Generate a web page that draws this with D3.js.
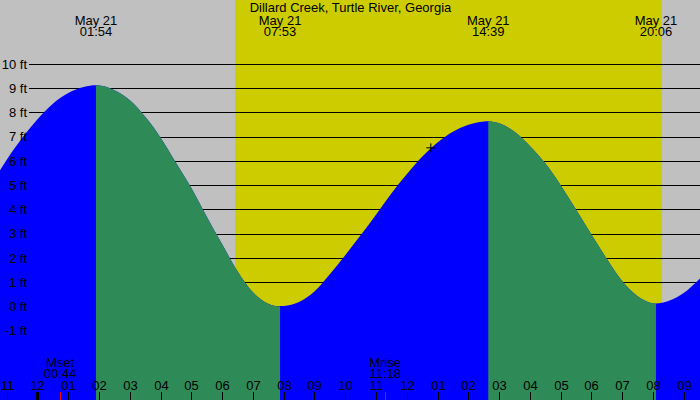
<!DOCTYPE html>
<html>
<head>
<meta charset="utf-8">
<script src="https://cdn.jsdelivr.net/npm/d3@7"></script>
<style>
  html, body { margin: 0; padding: 0; background: #c0c0c0; }
  svg { display: block; }
  text { font-family: "Liberation Sans", Arial, sans-serif; font-size: 13px; fill: #000; }
</style>
</head>
<body>
<svg id="chart" width="700" height="400"></svg>
<script>
// Chart text
const title = 'Dillard Creek, Turtle River, Georgia';
const dateLabel = 'May 21';

// High / low tide events (May 21)
const eventTimes = ['01:54', '07:53', '14:39', '20:06'];
const eventKinds = ['H', 'L', 'H', 'L'];

// Daylight (sunrise, sunset)
const sunTimes = ['06:26', '20:17'];

// Moon events
const moonNames = ['Mset', 'Mrise'];
const moonTimes = ['00:44', '11:18'];

// Tide height readings (hours after midnight, feet)
const tideHours = [-1.2187, -1.0, -0.5, 0.0, 0.5, 1.0, 1.5, 1.9,
  2.0, 2.5, 3.0, 3.5, 4.0, 4.5, 5.0, 5.5, 6.0, 6.5, 7.0, 7.5, 7.883,
  8.0, 8.5, 9.0, 9.5, 10.0, 10.5, 11.0, 11.5, 12.0, 12.5, 13.0, 13.5, 14.0, 14.5, 14.65,
  15.0, 15.5, 16.0, 16.5, 17.0, 17.5, 18.0, 18.5, 19.0, 19.5, 20.0, 20.1,
  20.5, 21.0, 21.531];
const tideFeet = [5.62, 6.05, 6.95, 7.72, 8.36, 8.80, 9.05, 9.12,
  9.11, 8.92, 8.50, 7.82, 6.96, 5.92, 4.88, 3.70, 2.56, 1.45, 0.58, 0.11, 0.0,
  0.01, 0.18, 0.61, 1.32, 2.11, 2.93, 3.78, 4.66, 5.45, 6.17, 6.76, 7.20, 7.49, 7.63, 7.64,
  7.55, 7.20, 6.62, 5.90, 5.00, 4.00, 2.96, 1.96, 1.04, 0.42, 0.13, 0.12,
  0.22, 0.55, 1.15];

// Small "+" marker on the curve
const markerTime = '12:47';
const markerFeet = 6.54;

// Axis ticks
const feetTicks = [-1, 0, 1, 2, 3, 4, 5, 6, 7, 8, 9, 10];
const hourTicks = d3.range(-1, 22);
const hourLabels = ['11', '12', '01', '02', '03', '04', '05', '06', '07', '08', '09', '10', '11',
  '12', '01', '02', '03', '04', '05', '06', '07', '08', '09'];

const toHours = s => { const [h, m] = s.split(':').map(Number); return h + m / 60; };

const svg = d3.select('#chart');
const width = 700, height = 400;

// midnight sits at x=37.5, one hour is ~30.77px
const x = d3.scaleLinear().domain([-1.2187, 21.531]).range([0, width]);
const y = d3.scaleLinear().domain([-1, 10]).range([330.55, 64.0]);

// background: night grey, daylight yellow
svg.append('rect')
  .attr('width', width).attr('height', height)
  .attr('fill', '#c0c0c0');
svg.append('rect')
  .attr('x', x(toHours(sunTimes[0])))
  .attr('width', x(toHours(sunTimes[1])) - x(toHours(sunTimes[0])))
  .attr('y', 0).attr('height', height)
  .attr('fill', '#cccc00')
  .attr('shape-rendering', 'crispEdges');

// horizontal grid lines
svg.append('g')
  .selectAll('line')
  .data(feetTicks)
  .join('line')
  .attr('x1', 29).attr('x2', width)
  .attr('y1', d => Math.round(y(d)) + 0.5)
  .attr('y2', d => Math.round(y(d)) + 0.5)
  .attr('stroke', '#000')
  .attr('stroke-width', 1)
  .attr('shape-rendering', 'crispEdges');

// tide area
const tide = tideHours.map((t, i) => ({ t, h: tideFeet[i] }));
const area = d3.area()
  .x(d => x(d.t))
  .y0(height)
  .y1(d => y(d.h))
  .curve(d3.curveMonotoneX);

// falling intervals (high -> next low) are green
const defs = svg.append('defs');
const clip = defs.append('clipPath').attr('id', 'falling');
eventTimes.forEach((s, i) => {
  if (eventKinds[i] !== 'H') return;
  const x0 = x(toHours(s));
  const x1 = i + 1 < eventTimes.length ? x(toHours(eventTimes[i + 1])) : width;
  clip.append('rect').attr('x', x0).attr('width', x1 - x0).attr('y', 0).attr('height', height);
});

svg.append('path')
  .datum(tide)
  .attr('fill', '#0000ff')
  .attr('d', area);

svg.append('path')
  .datum(tide)
  .attr('fill', '#2e8b57')
  .attr('clip-path', 'url(#falling)')
  .attr('d', area);

// "+" marker
const mx = x(toHours(markerTime)), my = y(markerFeet);
svg.append('path')
  .attr('d', `M${mx - 4.5},${my}H${mx + 4.5}M${mx},${my - 4.5}V${my + 4.5}`)
  .attr('stroke', '#000')
  .attr('stroke-width', 1)
  .attr('fill', 'none');

// y labels
svg.append('g')
  .selectAll('text')
  .data(feetTicks)
  .join('text')
  .attr('x', 27)
  .attr('y', d => y(d) + 4.7)
  .attr('text-anchor', 'end')
  .text(d => `${d} ft`);

// title
svg.append('text')
  .attr('x', 350.5).attr('y', 12)
  .attr('text-anchor', 'middle')
  .text(title);

// high / low labels
const ev = svg.append('g')
  .selectAll('g')
  .data(eventTimes)
  .join('g')
  .attr('transform', d => `translate(${x(toHours(d))},0)`);
ev.append('text').attr('y', 24.5).attr('text-anchor', 'middle').text(dateLabel);
ev.append('text').attr('y', 36).attr('text-anchor', 'middle').text(d => d);

// moon labels
const moon = svg.append('g')
  .selectAll('g')
  .data(moonTimes)
  .join('g')
  .attr('transform', d => `translate(${x(toHours(d))},0)`);
moon.append('text').attr('y', 366.5).attr('text-anchor', 'middle').text((d, i) => moonNames[i]);
moon.append('text').attr('y', 378.3).attr('text-anchor', 'middle').text(d => d);
moon.append('line')
  .attr('x1', 0.5).attr('x2', 0.5)
  .attr('y1', 392).attr('y2', height)
  .attr('stroke', '#ff0000')
  .attr('shape-rendering', 'crispEdges');

// hour axis
const hours = svg.append('g')
  .selectAll('g')
  .data(hourTicks)
  .join('g')
  .attr('transform', d => `translate(${Math.round(x(d))},0)`);
hours.append('line')
  .attr('x1', 0.5).attr('x2', 0.5)
  .attr('y1', 392).attr('y2', height)
  .attr('stroke', '#000')
  .attr('stroke-width', d => d === 0 ? 3 : 1)
  .attr('shape-rendering', 'crispEdges');
hours.append('text')
  .attr('x', 0.5)
  .attr('y', 390)
  .attr('text-anchor', 'middle')
  .text((d, i) => hourLabels[i]);
</script>
</body>
</html>
